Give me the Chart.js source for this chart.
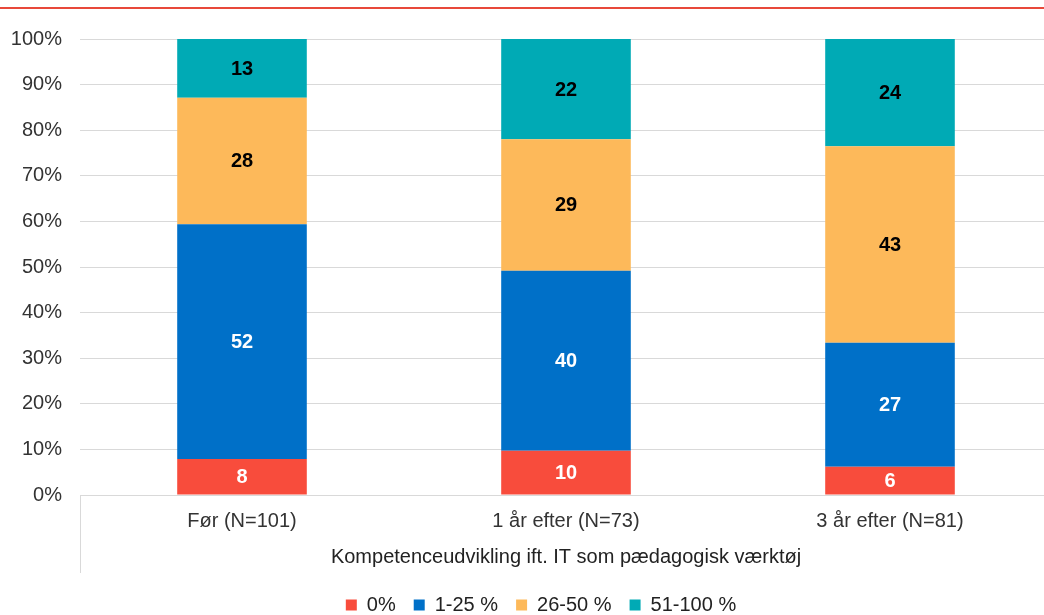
<!DOCTYPE html>
<html>
<head>
<meta charset="utf-8">
<script src="https://cdn.jsdelivr.net/npm/chart.js@4.4.1/dist/chart.umd.min.js"></script>
<style>
  html, body { margin: 0; padding: 0; background: #fff; overflow: hidden; }
  #wrap { position: relative; width: 1044px; height: 615px; overflow: hidden; }
  #topline { position: absolute; left: 0; top: 7px; width: 1044px; height: 2px; background: #e8483a; }
  #box { position: absolute; left: 0; top: 0; width: 1060px; height: 615px; }
</style>
</head>
<body>
<div id="wrap">
  <div id="topline"></div>
  <div id="box"><canvas id="chart"></canvas></div>
</div>
<script>
// Data (percent of respondents per group)
const categories = ['Før (N=101)', '1 år efter (N=73)', '3 år efter (N=81)'];
const seriesNames = ['0%', '1-25 %', '26-50 %', '51-100 %'];
const share0 = [7.9, 9.7, 6.2];
const share1to25 = [51.5, 39.5, 27.2];
const share26to50 = [27.7, 28.8, 43.1];
const share51to100 = [12.9, 22.0, 23.5];
const yTicks = [0, 10, 20, 30, 40, 50, 60, 70, 80, 90, 100];
const axisTitle = 'Kompetenceudvikling ift. IT som pædagogisk værktøj';

const colors = ['#f84c3c', '#0070c8', '#fdb95a', '#00aab5'];
const labelColors = ['#ffffff', '#ffffff', '#000000', '#000000'];
const font = 'Liberation Sans, Arial, sans-serif';

// draws the rounded value inside each bar segment
const valueLabels = {
  id: 'valueLabels',
  afterDatasetsDraw(chart) {
    const ctx = chart.ctx;
    ctx.save();
    ctx.font = 'bold 20px ' + font;
    ctx.textAlign = 'center';
    ctx.textBaseline = 'middle';
    chart.data.datasets.forEach((ds, i) => {
      chart.getDatasetMeta(i).data.forEach((bar, j) => {
        const p = bar.getProps(['x', 'y', 'base'], true);
        ctx.fillStyle = labelColors[i];
        ctx.fillText(Math.round(ds.data[j]), p.x, (p.y + p.base) / 2 + 1);
      });
    });
    ctx.restore();
  }
};

// vertical separators of the category axis block (left/right edges)
const axisBox = {
  id: 'axisBox',
  afterLayout(chart) {
    // the original legend sits a bit left of the plot centre
    chart.legend.left += 11;
    chart.legend.right += 11;
  },
  afterDraw(chart) {
    const ctx = chart.ctx, a = chart.chartArea, x = chart.scales.x;
    ctx.save();
    ctx.strokeStyle = '#d9d9d9';
    ctx.lineWidth = 1;
    ctx.beginPath();
    ctx.moveTo(a.left + 0.5, a.bottom);
    ctx.lineTo(a.left + 0.5, x.bottom - 4);
    ctx.moveTo(a.right - 0.5, a.bottom);
    ctx.lineTo(a.right - 0.5, x.bottom - 4);
    ctx.stroke();
    ctx.restore();
  }
};

const seriesData = [share0, share1to25, share26to50, share51to100];

new Chart(document.getElementById('chart'), {
  type: 'bar',
  data: {
    labels: categories,
    datasets: seriesNames.map((name, i) => ({
      label: name,
      data: seriesData[i],
      backgroundColor: colors[i],
      barPercentage: 0.4,
      categoryPercentage: 1
    }))
  },
  options: {
    responsive: true,
    maintainAspectRatio: false,
    animation: false,
    layout: { padding: { left: 8, right: 8, top: 39, bottom: -10 } },
    plugins: {
      legend: {
        position: 'bottom',
        labels: {
          boxWidth: 11,
          boxHeight: 11,
          padding: 18,
          color: '#222',
          font: { family: font, size: 20 }
        }
      },
      tooltip: { enabled: false }
    },
    scales: {
      x: {
        stacked: true,
        grid: { display: false, drawTicks: false },
        border: { display: false },
        ticks: { color: '#333', padding: 14, font: { family: font, size: 20 } },
        title: {
          display: true,
          text: axisTitle,
          color: '#222',
          padding: { top: -2, bottom: 8 },
          font: { family: font, size: 20 }
        }
      },
      y: {
        stacked: true,
        min: 0,
        max: 100,
        afterBuildTicks(axis) { axis.ticks = yTicks.map(v => ({ value: v })); },
        afterFit(axis) { axis.width = 72; },
        grid: { color: '#d9d9d9', drawTicks: false },
        border: { display: false },
        ticks: {
          color: '#333',
          padding: 18,
          font: { family: font, size: 20 },
          callback: v => v + '%'
        }
      }
    }
  },
  plugins: [valueLabels, axisBox]
});
</script>
</body>
</html>
